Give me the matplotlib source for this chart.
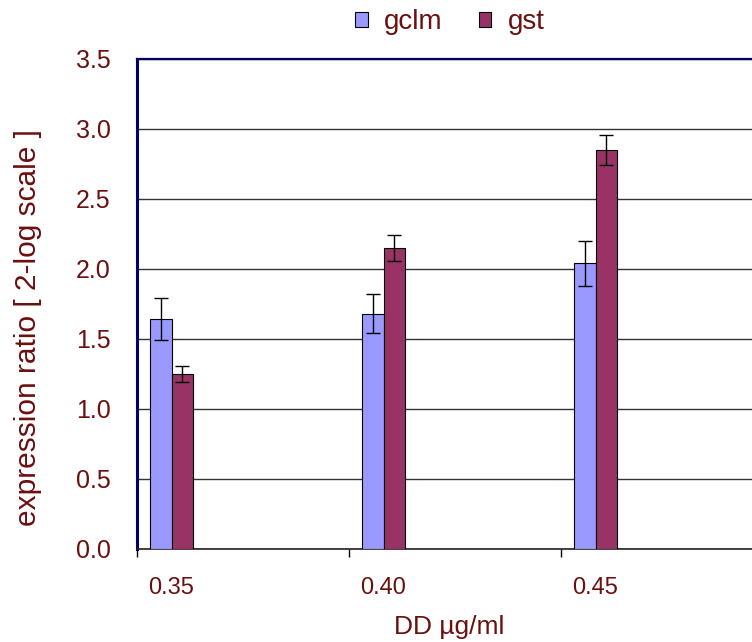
import numpy as np
import matplotlib
matplotlib.use("Agg")
from matplotlib import pyplot as plt

# data
doses = ["0.35", "0.40", "0.45"]
gclm = [1.64, 1.68, 2.04]
gclm_err = [0.15, 0.14, 0.16]
gst = [1.25, 2.15, 2.85]
gst_err = [0.06, 0.09, 0.11]

plt.rcParams['font.family'] = ['Liberation Sans', 'DejaVu Sans']
txt = '#6b0f0f'

fig = plt.figure(figsize=(7.52, 6.42), dpi=100)
ax = fig.add_axes([137/752, 1 - 549/642, 1 - 137/752, 490/642])

x = np.arange(len(doses))
w = 0.1
ax.bar(x + 0.063 + w/2, gclm, w, yerr=gclm_err, color='#9999ff', edgecolor='black',
       linewidth=0.8, capsize=5, error_kw=dict(elinewidth=1, capthick=1), label='gclm', zorder=3)
ax.bar(x + 0.063 + 1.5*w, gst, w, yerr=gst_err, color='#993366', edgecolor='black',
       linewidth=0.8, capsize=5, error_kw=dict(elinewidth=1, capthick=1), label='gst', zorder=3)

ax.set_xlim(0, 615/212)
ax.set_ylim(0, 3.5)
ax.set_yticks(np.arange(0, 3.51, 0.5))
ax.set_yticklabels(["%.1f" % v for v in np.arange(0, 3.51, 0.5)], color=txt, fontsize=18)
ax.yaxis.grid(True, color='#333333', linewidth=1)
ax.set_axisbelow(True)
ax.tick_params(axis='y', length=0, pad=19)

ax.set_xticks(x, minor=False)
ax.set_xticklabels([])
ax.set_xticks(x + 0.163, minor=True)
ax.set_xticklabels(doses, minor=True, color=txt, fontsize=17)
ax.tick_params(axis='x', which='major', length=6, width=1, color='black')
ax.tick_params(axis='x', which='minor', length=0, pad=20)

ax.spines['right'].set_visible(False)
ax.spines['left'].set_color('#000066')
ax.spines['left'].set_linewidth(2.2)
ax.spines['top'].set_color('#000066')
ax.spines['top'].set_linewidth(1.6)
ax.spines['bottom'].set_color('#222222')
ax.spines['bottom'].set_linewidth(1.2)

fig.text(28/752, 1 - 328/642, "expression ratio [ 2-log scale ]", color=txt, fontsize=21.5,
         rotation=90, ha='center', va='center')
fig.text(449/752, 1 - 627/642, "DD µg/ml", color=txt, fontsize=19, ha='center', va='center')

ax.legend(loc='center', bbox_to_anchor=(450/752, 1 - 22/642), bbox_transform=fig.transFigure,
          ncol=2, frameon=False, fontsize=20, handlelength=0.45, handleheight=0.45,
          handletextpad=0.6, columnspacing=1.3, labelcolor=txt)

fig.savefig("out.png", dpi=100)
